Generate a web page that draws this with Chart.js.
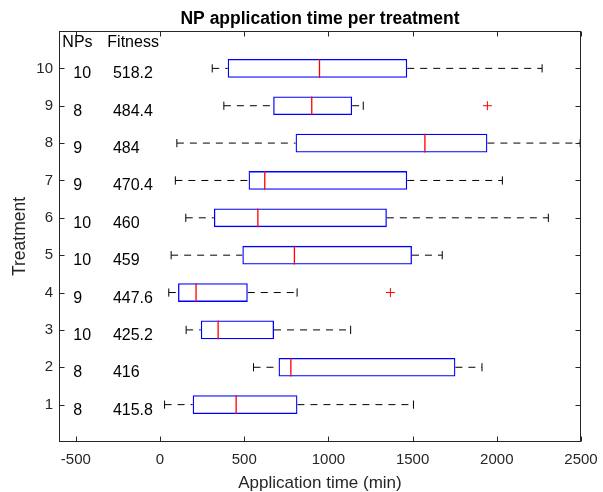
<!DOCTYPE html>
<html>
<head>
<meta charset="utf-8">
<script src="https://cdn.jsdelivr.net/npm/chart.js@4.4.1/dist/chart.umd.min.js"></script>
<style>
    html, body { margin: 0; padding: 0; background: #fff; }
    #wrap { width: 603px; height: 492px; }
</style>
</head>
<body>
<div id="wrap"><canvas id="plot" width="603" height="492"></canvas></div>
<script>
// one entry per treatment, bottom (1) to top (10)
const TREATMENTS = [1, 2, 3, 4, 5, 6, 7, 8, 9, 10];
const WHISKER_LOW = [27, 555, 155, 52, 66, 153, 91, 100, 379, 310];
const Q1 = [194, 704, 242, 107, 489, 320, 526, 805, 672, 402];
const MEDIAN = [452, 777, 345, 214, 798, 581, 622, 1573, 901, 947];
const Q3 = [816, 1754, 677, 521, 1496, 1347, 1468, 1944, 1141, 1468];
const WHISKER_HIGH = [1505, 1912, 1132, 814, 1676, 2306, 2033, 2495, 1207, 2269];
const OUTLIERS = [{ treatment: 4, value: 1368 }, { treatment: 9, value: 1944 }];
const NPS = [8, 8, 10, 9, 10, 10, 9, 9, 8, 10];
const FITNESS = [415.8, 416, 425.2, 447.6, 459, 460, 470.4, 484, 484.4, 518.2];

const X_TICKS = [-500, 0, 500, 1000, 1500, 2000, 2500];
const Y_TICKS = [1, 2, 3, 4, 5, 6, 7, 8, 9, 10];

const TITLE = 'NP application time per treatment';
const X_LABEL = 'Application time (min)';
const Y_LABEL = 'Treatment';

const AXIS_COLOR = '#262626';
const FONT = '"Liberation Sans", Arial, Helvetica, sans-serif';
const BOX_HALF = 0.25;
const CAP_HALF = 0.11;

// turn a list of [from, to] pairs into one broken line
function segments(pairs) {
    const pts = [];
    pairs.forEach(function(p) {
        pts.push(p[0], p[1], { x: NaN, y: NaN });
    });
    return pts;
}

const boxData = TREATMENTS.map((t, i) => ({ y: t, x: [Q1[i], Q3[i]] }));
const medianData = segments(TREATMENTS.map((t, i) => [
    { x: MEDIAN[i], y: t - BOX_HALF }, { x: MEDIAN[i], y: t + BOX_HALF }
]));
const whiskerData = segments(TREATMENTS.flatMap((t, i) => [
    [{ x: WHISKER_LOW[i], y: t }, { x: Q1[i], y: t }],
    [{ x: Q3[i], y: t }, { x: WHISKER_HIGH[i], y: t }]
]));
const capData = segments(TREATMENTS.flatMap((t, i) => [
    [{ x: WHISKER_LOW[i], y: t - CAP_HALF }, { x: WHISKER_LOW[i], y: t + CAP_HALF }],
    [{ x: WHISKER_HIGH[i], y: t - CAP_HALF }, { x: WHISKER_HIGH[i], y: t + CAP_HALF }]
]));
const outlierData = OUTLIERS.map(o => ({ x: o.value, y: o.treatment }));

const frame = {
    id: 'frame',
    afterDraw(chart) {
        const ctx = chart.ctx;
        const a = chart.chartArea;
        const xs = chart.scales.x;
        const ys = chart.scales.y;
        const L = Math.round(a.left) + 0.5;
        const R = Math.round(a.right) - 0.5;
        const T = Math.round(a.top) + 0.5;
        const B = Math.round(a.bottom) - 0.5;
        ctx.save();
        ctx.strokeStyle = AXIS_COLOR;
        ctx.lineWidth = 1;
        ctx.strokeRect(L, T, R - L, B - T);
        ctx.beginPath();
        X_TICKS.forEach(function(v) {
            const px = Math.round(xs.getPixelForValue(v)) + 0.5;
            ctx.moveTo(px, B); ctx.lineTo(px, B - 5);
            ctx.moveTo(px, T); ctx.lineTo(px, T + 5);
        });
        Y_TICKS.forEach(function(v) {
            const py = Math.round(ys.getPixelForValue(v)) + 0.5;
            ctx.moveTo(L, py); ctx.lineTo(L + 5, py);
            ctx.moveTo(R, py); ctx.lineTo(R - 5, py);
        });
        ctx.stroke();

        // table of NPs / fitness inside the axes
        ctx.fillStyle = '#000';
        ctx.textAlign = 'left';
        ctx.textBaseline = 'alphabetic';
        ctx.font = '16px ' + FONT;
        ctx.fillText('NPs', xs.getPixelForValue(-580), ys.getPixelForValue(10.57));
        ctx.fillText('Fitness', xs.getPixelForValue(-313), ys.getPixelForValue(10.57));
        TREATMENTS.forEach(function(t, i) {
            const py = ys.getPixelForValue(t) + 10;
            ctx.fillText(String(NPS[i]), xs.getPixelForValue(-515), py);
            ctx.fillText(String(FITNESS[i]), xs.getPixelForValue(-280), py);
        });

        // titles
        const cx = (a.left + a.right) / 2;
        ctx.textAlign = 'center';
        ctx.font = 'bold 17.5px ' + FONT;
        ctx.fillText(TITLE, cx, 23.5);
        ctx.fillStyle = AXIS_COLOR;
        ctx.font = '17px ' + FONT;
        ctx.fillText(X_LABEL, cx, 488);
        ctx.font = '17.5px ' + FONT;
        ctx.translate(25, (a.top + a.bottom) / 2);
        ctx.rotate(-Math.PI / 2);
        ctx.fillText(Y_LABEL, 0, 0);
        ctx.restore();
    }
};

const CTX = document.getElementById('plot').getContext('2d');
const CHART = new Chart(CTX, {
    type: 'bar',
    data: {
        datasets: [
            {
                type: 'bar',
                label: 'box',
                indexAxis: 'y',
                data: boxData,
                backgroundColor: 'rgba(0,0,0,0)',
                borderColor: '#0000ff',
                borderWidth: 1.3,
                borderSkipped: false,
                categoryPercentage: 1,
                barPercentage: 2 * BOX_HALF,
                order: 3
            },
            {
                type: 'line',
                label: 'whiskers',
                data: whiskerData,
                borderColor: '#000',
                borderWidth: 1,
                borderDash: [7, 6],
                pointRadius: 0,
                spanGaps: false,
                order: 2
            },
            {
                type: 'line',
                label: 'caps',
                data: capData,
                borderColor: '#000',
                borderWidth: 1,
                pointRadius: 0,
                spanGaps: false,
                order: 2
            },
            {
                type: 'line',
                label: 'median',
                data: medianData,
                borderColor: '#ff0000',
                borderWidth: 1.3,
                pointRadius: 0,
                spanGaps: false,
                order: 1
            },
            {
                type: 'scatter',
                label: 'outliers',
                data: outlierData,
                pointStyle: 'cross',
                pointRadius: 4.5,
                borderColor: '#ff0000',
                borderWidth: 1,
                order: 0
            }
        ]
    },
    options: {
        responsive: false,
        animation: false,
        devicePixelRatio: 1,
        layout: { padding: { top: 31, right: 22, left: 0, bottom: 0 } },
        plugins: {
            legend: { display: false },
            tooltip: { enabled: false },
            title: { display: false }
        },
        scales: {
            x: {
                type: 'linear',
                offset: false,
                min: -600,
                max: 2500,
                grid: { display: false, drawTicks: false, offset: false },
                border: { display: false },
                ticks: {
                    color: AXIS_COLOR,
                    font: { family: FONT, size: 15 },
                    padding: 9,
                    maxRotation: 0,
                    autoSkip: false,
                    callback: v => String(v)
                },
                afterBuildTicks: function(scale) {
                    scale.ticks = X_TICKS.map(v => ({ value: v }));
                },
                afterFit: function(scale) {
                    scale.height = 50;
                    scale.paddingLeft = 0;
                    scale.paddingRight = 0;
                }
            },
            y: {
                type: 'linear',
                offset: false,
                min: 0,
                max: 11,
                grid: { display: false, drawTicks: false, offset: false },
                border: { display: false },
                ticks: {
                    color: AXIS_COLOR,
                    font: { family: FONT, size: 15 },
                    padding: 6,
                    autoSkip: false,
                    callback: v => String(v)
                },
                afterBuildTicks: function(scale) {
                    scale.ticks = Y_TICKS.map(v => ({ value: v }));
                },
                afterFit: function(scale) {
                    scale.width = 59;
                    scale.paddingTop = 0;
                    scale.paddingBottom = 0;
                }
            }
        }
    },
    plugins: [frame]
});
</script>
</body>
</html>
